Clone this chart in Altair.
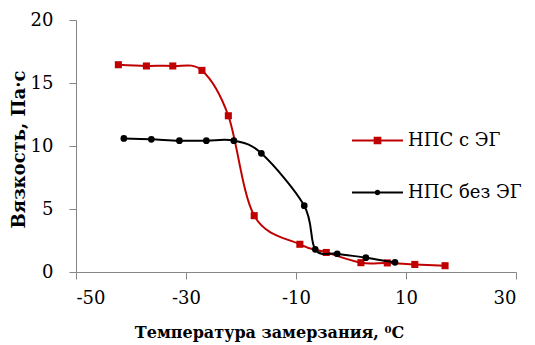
import altair as alt
import pandas as pd

series_names = ["НПС с ЭГ", "НПС без ЭГ"]
colors = ["#C00000", "#000000"]

red_x = [-42.3, -37.2, -32.4, -27.1, -22.3, -17.6, -9.3, -4.5, 1.8, 6.6, 11.6, 17.1]
red_y = [16.45, 16.35, 16.35, 16.0, 12.4, 4.47, 2.2, 1.55, 0.74, 0.72, 0.6, 0.5]

black_x = [-41.3, -36.3, -31.2, -26.3, -21.3, -16.3, -8.5, -6.5, -2.5, 2.7, 8.0]
black_y = [10.6, 10.53, 10.42, 10.42, 10.42, 9.42, 5.26, 1.8, 1.45, 1.14, 0.77]

x_ticks = [-50, -30, -10, 10, 30]
y_ticks = [0, 5, 10, 15, 20]

FONT = "DejaVu Serif"

red_df = pd.DataFrame({"t": red_x, "v": red_y, "series": series_names[0]})
black_df = pd.DataFrame({"t": black_x, "v": black_y, "series": series_names[1]})

x_enc = alt.X("t:Q", scale=alt.Scale(domain=[-50, 30], nice=False, zero=False),
              axis=alt.Axis(values=x_ticks, title="Температура замерзания, ⁰С",
                            titleX=193, titleY=65, titleAlign="center",
                            titleBaseline="alphabetic", labelPadding=10,
                            titleFontSize=16,
                            labelFont=FONT, titleFont=FONT,
                            labelExpr="replace(datum.label, '\u2212', '-')"))
y_enc = alt.Y("v:Q", scale=alt.Scale(domain=[0, 20], nice=False),
              axis=alt.Axis(values=y_ticks, title="Вязкость, Па·с",
                            titleAngle=270, titleX=-57, titleY=129,
                            titleFontSize=18,
                            labelFont=FONT, titleFont=FONT,
                            titleAlign="center", titleBaseline="middle",
                            labelPadding=16))

def series_layers(df, color, shape, size):
    line = alt.Chart(df).mark_line(color=color, strokeWidth=2,
                                   interpolate="cardinal").encode(x=x_enc, y=y_enc)
    pts = alt.Chart(df).mark_point(color=color, filled=True, opacity=1,
                                   shape=shape, size=size).encode(x=x_enc, y=y_enc)
    return [line, pts]

# legend symbols: line + marker as custom paths
sq_path = ("M-1,-0.04L1,-0.04L1,0.04L-1,0.04Z "
           "M-0.15,-0.15L0.15,-0.15L0.15,0.15L-0.15,0.15Z")
ci_path = ("M-1,-0.04L1,-0.04L1,0.04L-1,0.04Z "
           "M0.11,0A0.11,0.11 0 1,1 -0.11,0A0.11,0.11 0 1,1 0.11,0Z")

def make_legend():
    return alt.Legend(title=None, orient="none", legendX=276, legendY=95,
                      symbolSize=2601, symbolStrokeWidth=0, rowPadding=17,
                      labelOffset=5, padding=0, labelFont=FONT,
                      labelFontSize=18, labelColor="#000000", labelLimit=300)

legend_df = pd.DataFrame({"series": series_names})
legend_layer = alt.Chart(legend_df).transform_filter("false").mark_point(
    filled=True, opacity=1).encode(
    fill=alt.Fill("series:N",
                  scale=alt.Scale(domain=series_names, range=colors),
                  legend=make_legend()),
    shape=alt.Shape("series:N",
                    scale=alt.Scale(domain=series_names, range=[sq_path, ci_path]),
                    legend=make_legend()),
)

layers = (series_layers(red_df, colors[0], "square", 50)
          + series_layers(black_df, colors[1], "circle", 45)
          + [legend_layer])

chart = alt.layer(*layers).properties(
    width=440, height=252,
    autosize=alt.AutoSizeParams(type="none"),
    padding={"left": 68, "top": 12, "right": 10, "bottom": 70},
).configure(font=FONT).configure_view(stroke=None).configure_axis(
    grid=False, domainColor="#868686", tickColor="#868686", tickSize=7,
    labelFont=FONT, labelFontSize=18, labelColor="#000000",
    titleFont=FONT, titleFontWeight="bold", titleColor="#000000",
).configure_legend(labelFont=FONT)

chart.save("out.html", embed_options={"renderer": "svg", "actions": False})
